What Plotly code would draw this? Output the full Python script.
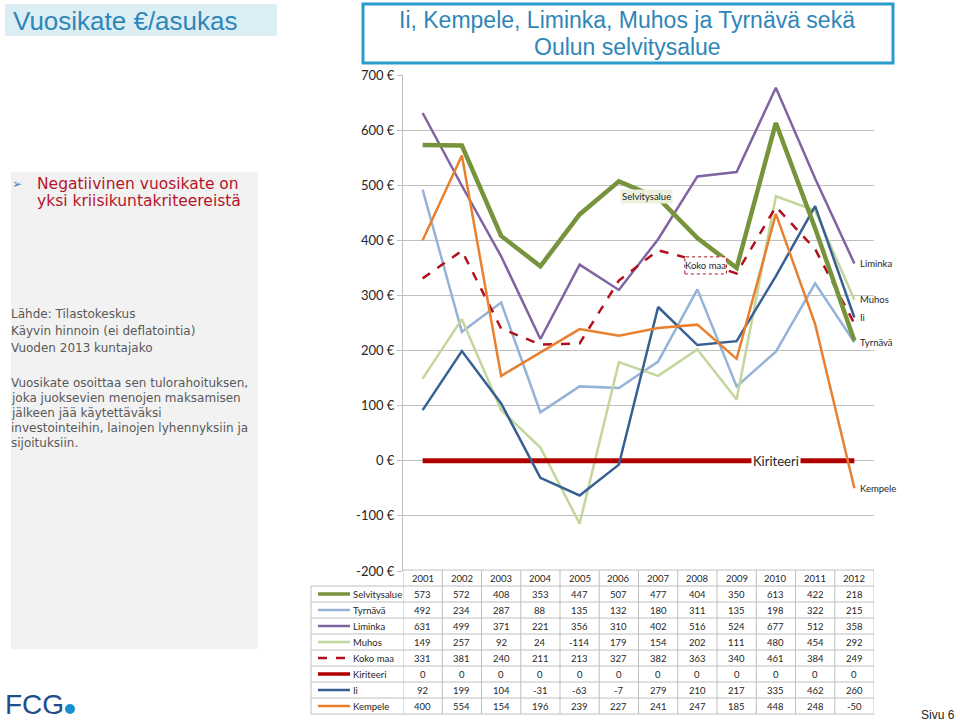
import plotly.graph_objects as go

years = [2001, 2002, 2003, 2004, 2005, 2006, 2007, 2008, 2009, 2010, 2011, 2012]
series_names = ["Selvitysalue", "Tyrnävä", "Liminka", "Muhos", "Koko maa", "Kiriteeri", "Ii", "Kempele"]
selvitysalue = [573, 572, 408, 353, 447, 507, 477, 404, 350, 613, 422, 218]
tyrnava = [492, 234, 287, 88, 135, 132, 180, 311, 135, 198, 322, 215]
liminka = [631, 499, 371, 221, 356, 310, 402, 516, 524, 677, 512, 358]
muhos = [149, 257, 92, 24, -114, 179, 154, 202, 111, 480, 454, 292]
koko_maa = [331, 381, 240, 211, 213, 327, 382, 363, 340, 461, 384, 249]
kiriteeri = [0, 0, 0, 0, 0, 0, 0, 0, 0, 0, 0, 0]
ii = [92, 199, 104, -31, -63, -7, 279, 210, 217, 335, 462, 260]
kempele = [400, 554, 154, 196, 239, 227, 241, 247, 185, 448, 248, -50]
tick_vals = [-200, -100, 0, 100, 200, 300, 400, 500, 600, 700]
tick_labels = ["-200 €", "-100 €", "0 €", "100 €", "200 €", "300 €", "400 €", "500 €", "600 €", "700 €"]

values = [selvitysalue, tyrnava, liminka, muhos, koko_maa, kiriteeri, ii, kempele]
styles = {
    "Selvitysalue": dict(color="#77933c", width=4.5, dash="solid"),
    "Tyrnävä": dict(color="#95b3d7", width=2.5, dash="solid"),
    "Liminka": dict(color="#8064a2", width=2.5, dash="solid"),
    "Muhos": dict(color="#c3d69b", width=2.5, dash="solid"),
    "Koko maa": dict(color="#b0101c", width=2.5, dash="dash"),
    "Kiriteeri": dict(color="#b00000", width=5, dash="solid"),
    "Ii": dict(color="#376092", width=2.5, dash="solid"),
    "Kempele": dict(color="#e8802f", width=2.5, dash="solid"),
}
draw_order = ["Tyrnävä", "Liminka", "Muhos", "Koko maa", "Kiriteeri", "Ii", "Kempele", "Selvitysalue"]

W, H = 960, 721
def px(x):
    return x / W
def py(y):
    return 1 - y / H

fig = go.Figure()
for name in draw_order:
    vals = values[series_names.index(name)]
    s = styles[name]
    fig.add_trace(go.Scatter(x=years, y=vals, mode="lines", name=name,
                             line=dict(color=s["color"], width=s["width"], dash=s["dash"]),
                             showlegend=False, hoverinfo="skip"))

CAL = "Lato, Carlito, Liberation Sans, sans-serif"
ann = []
shapes = []

# end labels
for name in ["Liminka", "Muhos", "Ii", "Tyrnävä", "Kempele"]:
    v = values[series_names.index(name)][-1]
    ann.append(dict(x=years[-1], y=v, xref="x", yref="y", text=name, showarrow=False,
                    xanchor="left", yanchor="middle", xshift=4,
                    font=dict(family=CAL, size=9.5, color="#262626")))
# in-chart labels
ann.append(dict(x=2010, y=0, xref="x", yref="y", text="Kiriteeri", showarrow=False, yanchor="middle",
                bgcolor="white", font=dict(family=CAL, size=13, color="#262626")))
ann.append(dict(x=2006.7, y=479, xref="x", yref="y", text="Selvitysalue", showarrow=False, yanchor="middle",
                bgcolor="#ebf1de", font=dict(family=CAL, size=9.5, color="#262626")))
shapes.append(dict(type="rect", xref="x", yref="y", x0=2007.68, x1=2008.74, y0=339, y1=370,
                   line=dict(color="#b0101c", width=1, dash="dot"), fillcolor="white", layer="above"))
ann.append(dict(x=2008.21, y=355, xref="x", yref="y", text="Koko maa", showarrow=False, yanchor="middle",
                font=dict(family=CAL, size=9.5, color="#262626")))

# data table
grid = "#bfbfbf"
tab_top, head_h, row_h = 570, 16, 16
x_lab0, x_ax, x_end = 311, 403, 874
rows_bottom = tab_top + head_h + row_h * len(series_names)
shapes.append(dict(type="line", xref="paper", yref="paper", x0=px(x_ax), x1=px(x_end),
                   y0=py(tab_top), y1=py(tab_top), line=dict(color=grid, width=1)))
for i in range(len(series_names) + 1):
    yy = tab_top + head_h + i * row_h
    shapes.append(dict(type="line", xref="paper", yref="paper", x0=px(x_lab0), x1=px(x_end),
                       y0=py(yy), y1=py(yy), line=dict(color=grid, width=1)))
shapes.append(dict(type="line", xref="paper", yref="paper", x0=px(x_lab0), x1=px(x_lab0),
                   y0=py(tab_top + head_h), y1=py(rows_bottom), line=dict(color=grid, width=1)))
for k in range(len(years) + 1):
    xx = years[0] - 0.5 + k
    shapes.append(dict(type="line", xref="x", yref="paper", x0=xx, x1=xx,
                       y0=py(tab_top), y1=py(rows_bottom), line=dict(color=grid, width=1)))
for j, yr in enumerate(years):
    ann.append(dict(x=yr, y=py(tab_top + head_h / 2), xref="x", yref="paper", text=str(yr),
                    showarrow=False, yanchor="middle", font=dict(family=CAL, size=9.5, color="#262626")))
for i, name in enumerate(series_names):
    yc = tab_top + head_h + row_h * i + row_h / 2
    s = styles[name]
    shapes.append(dict(type="line", xref="paper", yref="paper", x0=px(318), x1=px(350),
                       y0=py(yc), y1=py(yc),
                       line=dict(color=s["color"], width=min(s["width"], 3.5), dash=s["dash"])))
    ann.append(dict(x=px(351), y=py(yc), xref="paper", yref="paper", text=name, showarrow=False,
                    xanchor="left", yanchor="middle", font=dict(family=CAL, size=9.5, color="#262626")))
    for j, yr in enumerate(years):
        ann.append(dict(x=yr, y=py(yc), xref="x", yref="paper", text=str(values[i][j]),
                        showarrow=False, yanchor="middle", font=dict(family=CAL, size=9.5, color="#262626")))

# slide decorations
ARIAL = "Liberation Sans, Arial, sans-serif"
DJV = "DejaVu Sans, Liberation Sans, sans-serif"
def text_at(x, y, t, size, color, family, xanchor="left"):
    ann.append(dict(x=px(x), y=py(y), xref="paper", yref="paper", text=t, showarrow=False,
                    xanchor=xanchor, yanchor="middle", font=dict(family=family, size=size, color=color)))

shapes.append(dict(type="rect", xref="paper", yref="paper", x0=px(5), x1=px(277), y0=py(36), y1=py(4),
                   fillcolor="#dbeef4", line=dict(width=0), layer="below"))
text_at(11, 21, "Vuosikate €/asukas", 26, "#2f86b8", ARIAL)
shapes.append(dict(type="rect", xref="paper", yref="paper", x0=px(363), x1=px(893), y0=py(63), y1=py(4),
                   fillcolor="rgba(0,0,0,0)", line=dict(color="#2a9ccb", width=3)))
text_at(627, 20, "Ii, Kempele, Liminka, Muhos ja Tyrnävä sekä", 23, "#2f86b8", ARIAL, "center")
text_at(627, 47, "Oulun selvitysalue", 23, "#2f86b8", ARIAL, "center")
shapes.append(dict(type="rect", xref="paper", yref="paper", x0=px(11), x1=px(258), y0=py(649), y1=py(172),
                   fillcolor="#f2f2f2", line=dict(width=0), layer="below"))
text_at(10, 184, "➢", 12, "#4f81bd", "DejaVu Sans")
text_at(35, 183.5, "Negatiivinen vuosikate on", 15.5, "#b5152b", DJV)
text_at(35, 201, "yksi kriisikuntakriteereistä", 15.5, "#b5152b", DJV)
for yy, t in zip([314, 331, 348], ["Lähde: Tilastokeskus", "Käyvin hinnoin (ei deflatointia)",
                                   "Vuoden 2013 kuntajako"]):
    text_at(9, yy, t, 12, "#595959", DJV)
for yy, t in zip([383, 398, 413, 428, 443],
                 ["Vuosikate osoittaa sen tulorahoituksen,", "joka juoksevien menojen maksamisen",
                  "jälkeen jää käytettäväksi", "investointeihin, lainojen lyhennyksiin ja",
                  "sijoituksiin."]):
    text_at(9, yy, t, 12, "#595959", DJV)
text_at(3, 704, "FCG", 28, "#1f4e8c", ARIAL)
shapes.append(dict(type="circle", xref="paper", yref="paper", x0=px(65), x1=px(75), y0=py(714), y1=py(704),
                   fillcolor="#1a8fd0", line=dict(width=0)))
text_at(957, 715, "Sivu 6", 12, "#262626", ARIAL, "right")

fig.update_layout(
    width=W, height=H, margin=dict(l=0, r=0, t=0, b=0, autoexpand=False),
    paper_bgcolor="white", plot_bgcolor="white",
    xaxis=dict(domain=[px(x_ax), px(x_end)], range=[years[0] - 0.5, years[-1] + 0.5],
               showticklabels=False, showgrid=False, zeroline=False, showline=False, ticks=""),
    yaxis=dict(domain=[py(571), py(75)], range=[-200, 700], tickvals=tick_vals, ticktext=tick_labels,
               showgrid=True, gridcolor=grid, gridwidth=1, zeroline=False, showline=True,
               linecolor=grid, ticks="outside", ticklen=5, tickcolor=grid,
               tickfont=dict(family=CAL, size=13, color="#262626")),
    annotations=ann, shapes=shapes,
)
fig.write_html("out.html", config={"displayModeBar": False},
               post_script="document.body.style.margin='0';document.body.style.overflow='hidden';")
